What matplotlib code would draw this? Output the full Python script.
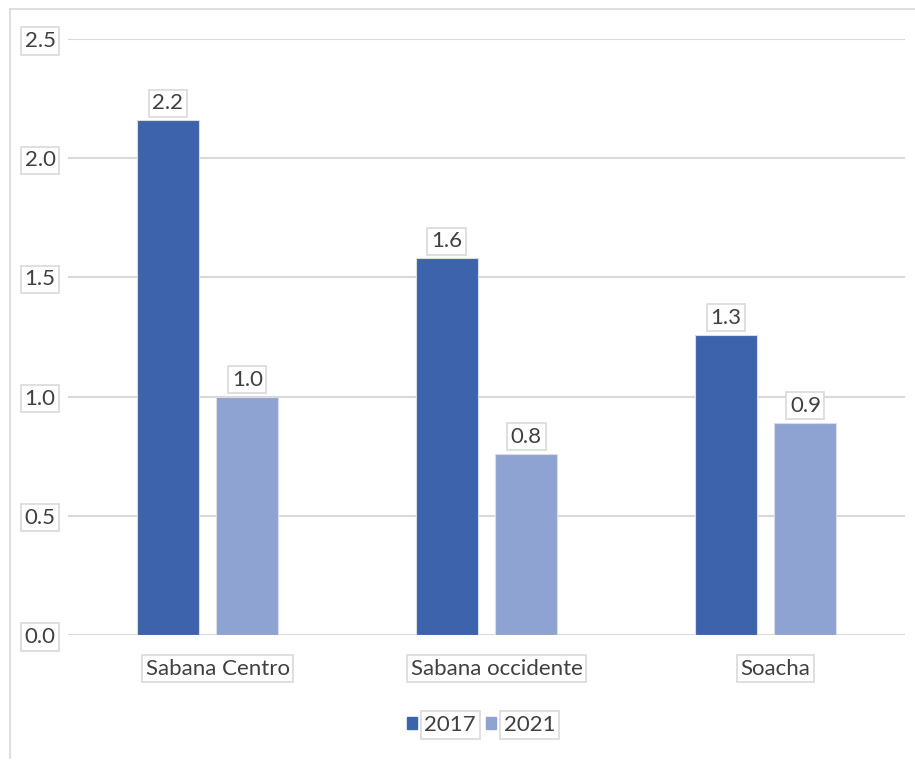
import numpy as np
import matplotlib
matplotlib.use("Agg")
import matplotlib.pyplot as plt
import matplotlib.transforms as mtransforms
from matplotlib.lines import Line2D
from matplotlib.patches import Patch

# data
categories = ["Sabana Centro", "Sabana occidente", "Soacha"]
years = ["2017", "2021"]
values_2017 = [2.16, 1.58, 1.26]
values_2021 = [1.00, 0.76, 0.89]

col_2017 = "#3c63ab"
col_2021 = "#8fa3d3"
grid_col = "#d9d9d9"
txt_col = "#404040"
box = dict(boxstyle="square,pad=0.16", fc="white", ec="#d9d9d9", lw=1.2)

plt.rcParams["font.family"] = ["Lato", "DejaVu Sans"]
fs = 16

fig = plt.figure(figsize=(9.15, 7.72), dpi=100)

# chart frame (top and left edges visible)
fig.add_artist(Line2D([10/915, 1.0], [1 - 9/772, 1 - 9/772], color=grid_col, lw=1.2))
fig.add_artist(Line2D([10/915, 10/915], [1 - 9/772, 1 - 758/772], color=grid_col, lw=1.2))

ax = fig.add_axes([68/915, 1 - 635/772, (905 - 68)/915, (635 - 39)/772])
ax.patch.set_alpha(0)

x = np.arange(len(categories))
w = 0.222
off = 0.143
b1 = ax.bar(x - off, values_2017, w, color=col_2017, edgecolor="#dcdcdc", lw=0.8, zorder=3, label=years[0])
b2 = ax.bar(x + off, values_2021, w, color=col_2021, edgecolor="#dcdcdc", lw=0.8, zorder=3, label=years[1])

for bars, vals in ((b1, values_2017), (b2, values_2021)):
    for r, v in zip(bars, vals):
        ax.annotate(f"{v:.1f}", (r.get_x() + r.get_width()/2, v),
                    xytext=(0, 5), textcoords="offset points",
                    ha="center", va="bottom", fontsize=fs, color=txt_col,
                    bbox=box, zorder=4)

ax.set_xlim(-0.5, 2.5)
ax.set_ylim(0, 2.5)
ax.set_yticks(np.arange(0, 2.51, 0.5))
ax.set_yticklabels([f"{t:.1f}" for t in np.arange(0, 2.51, 0.5)])
ax.set_xticks(x)
ax.set_xticklabels(categories)
ax.yaxis.grid(True, color=grid_col, lw=1.5, zorder=0)
for s in ax.spines.values():
    s.set_visible(False)
ax.tick_params(length=0, labelsize=fs, labelcolor=txt_col)
ax.tick_params(axis="y", pad=9)
ax.tick_params(axis="x", pad=17)
for t in ax.get_xticklabels() + ax.get_yticklabels():
    t.set_bbox(box)

# category labels sit a little right of centre in the original
shift = mtransforms.ScaledTranslation(10/100, 0, fig.dpi_scale_trans)
for t in ax.get_xticklabels():
    t.set_transform(t.get_transform() + shift)

handles = [Patch(color=col_2017), Patch(color=col_2021)]
leg = fig.legend(handles, years, loc="center", bbox_to_anchor=(481/915, 1 - 725/772),
                 ncol=2, frameon=False, fontsize=fs, handlelength=0.45, handleheight=0.45,
                 handletextpad=0.35, columnspacing=0.45, labelcolor=txt_col)
for t in leg.get_texts():
    t.set_bbox(box)

fig.savefig("out.png", dpi=100, facecolor="white")
